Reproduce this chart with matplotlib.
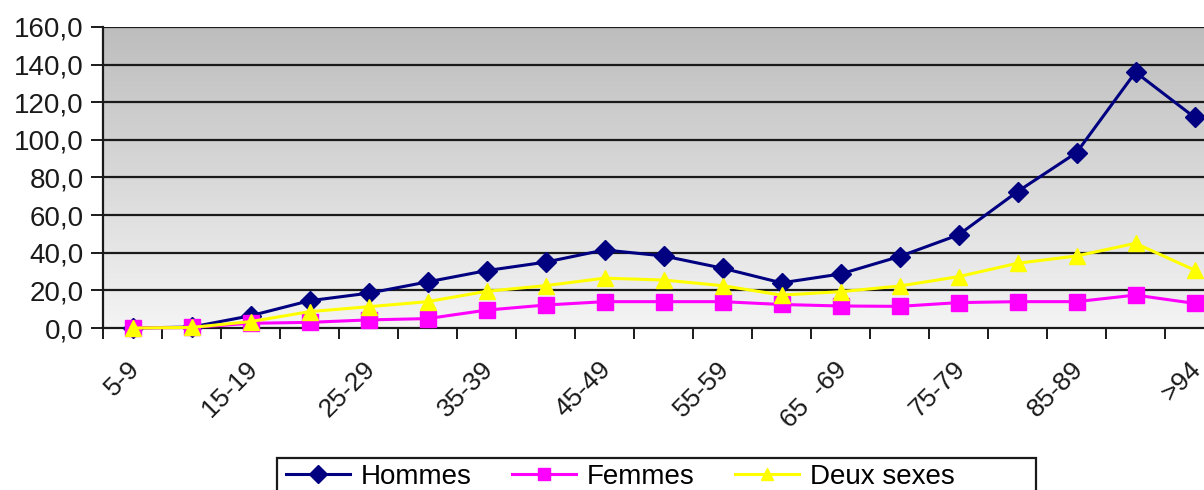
import matplotlib
matplotlib.use("Agg")
import matplotlib.pyplot as plt
import matplotlib.transforms as mtransforms
from matplotlib.patches import Rectangle
import numpy as np
from matplotlib.ticker import FuncFormatter

plt.rcParams['font.family'] = ['Liberation Sans', 'DejaVu Sans']

# age groups (only every other label is printed, as in the source chart)
categories = ['5-9', '10-14', '15-19', '20-24', '25-29', '30-34', '35-39', '40-44',
              '45-49', '50-54', '55-59', '60-64', '65  -69', '70-74', '75-79',
              '80-84', '85-89', '90-94', '>94']
hommes = [0.0, 0.5, 6.5, 14.5, 18.5, 24.5, 30.5, 35.0, 41.5, 38.3, 31.8, 24.0,
          28.7, 38.0, 49.5, 72.5, 93.2, 136.0, 112.0]
femmes = [0.0, 0.3, 2.5, 3.0, 4.3, 5.0, 9.5, 12.2, 14.0, 14.0, 14.0, 12.5,
          11.7, 11.5, 13.5, 14.0, 14.0, 17.5, 13.1]
deux_sexes = [0.0, 0.3, 3.4, 8.7, 11.3, 14.0, 19.5, 22.5, 26.5, 25.5, 22.5, 17.5,
              19.3, 22.3, 27.3, 34.4, 38.3, 45.0, 30.8]
yticks = [0, 20, 40, 60, 80, 100, 120, 140, 160]

W, H = 1204, 490
fig = plt.figure(figsize=(W / 100, H / 100), dpi=100)
# plot area runs past the right edge of the image, like the cropped original
ax = fig.add_axes([103 / W, 1 - 328 / H, 1121 / W, 301 / H])

x = np.arange(len(categories))
ax.set_xlim(-0.5, len(categories) - 0.5)
ax.set_ylim(0, 160)

# grey gradient background
grad = np.linspace(0, 1, 256).reshape(-1, 1)
ax.imshow(grad, extent=[0, 1, 0, 1], transform=ax.transAxes, aspect='auto',
          cmap=matplotlib.colors.LinearSegmentedColormap.from_list('bg', ['#f4f4f4', '#bdbdbd']),
          origin='lower', zorder=0)

for v in yticks[1:]:
    ax.axhline(v, color='#1a1a1a', lw=1.6, zorder=1)

# series drawn in Excel order: later series on top
ax.plot(x, hommes, color='#000080', lw=2.2, marker='D', markersize=10, label='Hommes',
        zorder=6, clip_on=False)
ax.plot(x, femmes, color='#ff00ff', lw=2.2, marker='s', markersize=11, label='Femmes',
        zorder=7, clip_on=False)
ax.plot(x, deux_sexes, color='#ffff00', lw=2.2, marker='^', markersize=12, label='Deux sexes',
        zorder=8, clip_on=False)

for s in ['top', 'right']:
    ax.spines[s].set_visible(False)
for s in ['left', 'bottom']:
    ax.spines[s].set_color('#1a1a1a')
    ax.spines[s].set_linewidth(1.6)
    ax.spines[s].set_zorder(5)

ax.set_yticks(yticks)
ax.yaxis.set_major_formatter(FuncFormatter(lambda v, p: ('%.1f' % v).replace('.', ',')))
ax.tick_params(axis='y', length=9, width=1.4, labelsize=20, pad=5, colors='#1a1a1a')

ax.set_xticks(x[::2])
ax.set_xticklabels(categories[::2], rotation=45, ha='right', va='center',
                   rotation_mode='anchor', fontsize=19)
ax.set_xticks(np.arange(-0.5, len(categories), 1), minor=True)
ax.tick_params(axis='x', which='major', length=0, pad=27)
ax.tick_params(axis='x', which='minor', length=8, width=1.4, colors='#1a1a1a')
shift = mtransforms.ScaledTranslation(3 / 100, 0, fig.dpi_scale_trans)
for lab in ax.get_xticklabels():
    lab.set_color('#1a1a1a')
    lab.set_transform(lab.get_transform() + shift)

# legend frame drawn separately so it matches the wide box of the original
fig.patches.append(Rectangle((277 / W, -0.05), (1036 - 277) / W, 0.05 + 1 - 458 / H,
                             transform=fig.transFigure, facecolor='white',
                             edgecolor='#1a1a1a', lw=1.6, zorder=0))
leg = fig.legend(loc='center left', bbox_to_anchor=(286 / W, 1 - 477 / H), ncol=3,
                 fontsize=20, frameon=False, handlelength=2.3, handletextpad=0.4,
                 columnspacing=1.45, borderpad=0, borderaxespad=0)
for h in leg.legend_handles:
    h.set_markersize(9)

fig.savefig('out.png', dpi=100)
